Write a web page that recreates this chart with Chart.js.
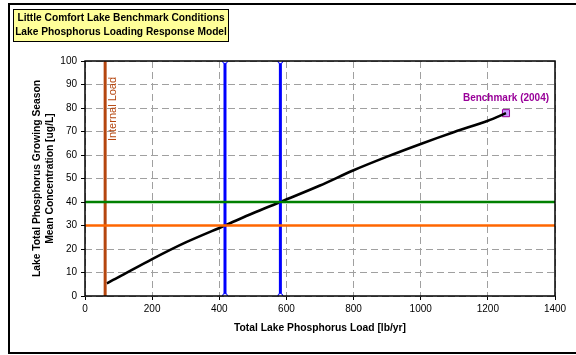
<!DOCTYPE html>
<html>
<head>
<meta charset="utf-8">
<script src="https://cdn.jsdelivr.net/npm/chart.js@4.4.1/dist/chart.umd.min.js"></script>
<style>
  html, body { margin: 0; padding: 0; background: #fff; }
  #wrap { width: 576px; height: 355px; }
</style>
</head>
<body>
<div id="wrap"><canvas id="chart" width="576" height="355"></canvas></div>
<script>
// response curve: total load [lb/yr] vs. mean TP [ug/L]
var loadValues = [65, 100, 200, 300, 417, 500, 582, 700, 800, 900, 1000, 1100, 1200, 1254];
var tpValues   = [5.4, 8, 15.7, 22.8, 30, 35.2, 40, 47, 53.5, 59.3, 64.7, 69.8, 74.6, 77.8];

// benchmark (2004) condition
var benchmarkLoad = 1254;
var benchmarkTP = 77.8;

// reference lines
var internalLoad = 60;
var targetLoads = [417, 582];
var standardTP = [40, 30];

var xTicks = [0, 200, 400, 600, 800, 1000, 1200, 1400];
var yTicks = [0, 10, 20, 30, 40, 50, 60, 70, 80, 90, 100];

var titleLines = ['Little Comfort Lake Benchmark Conditions', 'Lake Phosphorus Loading Response Model'];

var FONT = 'Arial, "Liberation Sans", sans-serif';

function vline(x) {
  return [{ x: x, y: 0 }, { x: x, y: 100 }];
}
function hline(y) {
  return [{ x: 0, y: y }, { x: 1400, y: y }];
}

var curve = loadValues.map(function(x, i) { return { x: x, y: tpValues[i] }; });

// frame, title box and the two text labels
var decorations = {
  id: 'decorations',
  beforeDraw: function(chart) {
    var ctx = chart.ctx;
    ctx.save();
    ctx.fillStyle = '#fff';
    ctx.fillRect(0, 0, chart.width, chart.height);
    ctx.strokeStyle = '#000';
    ctx.lineWidth = 2;
    ctx.strokeRect(9, 4, 600, 349);
    ctx.restore();
  },
  afterDatasetsDraw: function(chart) {
    var ctx = chart.ctx;
    var a = chart.chartArea;
    var xs = chart.scales.x, ys = chart.scales.y;
    ctx.save();

    // plot border
    ctx.strokeStyle = '#000';
    ctx.lineWidth = 1.5;
    ctx.strokeRect(a.left, a.top, a.right - a.left, a.bottom - a.top);

    // title box
    ctx.fillStyle = '#FFFF99';
    ctx.fillRect(13, 9, 216, 33);
    ctx.strokeStyle = '#000';
    ctx.lineWidth = 1;
    ctx.strokeRect(13.5, 9.5, 215, 32);
    ctx.fillStyle = '#000';
    ctx.font = 'bold 10.2px ' + FONT;
    ctx.textAlign = 'center';
    ctx.textBaseline = 'middle';
    ctx.fillText(titleLines[0], 121, 18.5);
    ctx.fillText(titleLines[1], 121, 32.5);

    // internal load label
    ctx.save();
    ctx.translate(xs.getPixelForValue(internalLoad) + 8, a.top + 48);
    ctx.rotate(-Math.PI / 2);
    ctx.fillStyle = '#B5460F';
    ctx.font = '11px ' + FONT;
    ctx.fillText('Internal Load', 0, 0);
    ctx.restore();

    // benchmark label
    ctx.fillStyle = '#990099';
    ctx.font = 'bold 10px ' + FONT;
    ctx.fillText('Benchmark (2004)', xs.getPixelForValue(benchmarkLoad), ys.getPixelForValue(benchmarkTP) - 15);

    ctx.restore();
  }
};

new Chart(document.getElementById('chart'), {
  type: 'scatter',
  data: {
    datasets: [
      { data: hline(standardTP[0]), showLine: true, borderColor: '#008000', borderWidth: 2.5, pointRadius: 0 },
      { data: hline(standardTP[1]), showLine: true, borderColor: '#FF6600', borderWidth: 2.5, pointRadius: 0 },
      { data: vline(targetLoads[0]), showLine: true, borderColor: '#0000FF', borderWidth: 3,
        pointRadius: 2.5, pointBackgroundColor: '#fff', pointBorderColor: '#0000FF', pointBorderWidth: 1 },
      { data: vline(targetLoads[1]), showLine: true, borderColor: '#0000FF', borderWidth: 3,
        pointRadius: 2.5, pointBackgroundColor: '#fff', pointBorderColor: '#0000FF', pointBorderWidth: 1 },
      { data: vline(internalLoad), showLine: true, borderColor: '#B5460F', borderWidth: 3, pointRadius: 0 },
      { data: curve, showLine: true, borderColor: '#000', borderWidth: 2.6, pointRadius: 0, tension: 0.3 },
      { data: [{ x: benchmarkLoad, y: benchmarkTP }], pointStyle: 'rect', pointRadius: 5,
        pointBackgroundColor: '#CC99FF', pointBorderColor: '#990099', pointBorderWidth: 1 }
    ]
  },
  options: {
    responsive: false,
    animation: false,
    layout: { padding: { top: 61, right: 21, left: 30, bottom: 21 } },
    plugins: { legend: { display: false }, tooltip: { enabled: false } },
    scales: {
      x: {
        type: 'linear', min: 0, max: 1400,
        afterBuildTicks: function(s) { s.ticks = xTicks.map(function(v) { return { value: v }; }); },
        afterFit: function(s) { s.height = 38; },
        ticks: { color: '#000', font: { family: FONT, size: 10 }, padding: 3, maxRotation: 0,
                 callback: function(v) { return String(v); } },
        grid: { color: '#a0a0a0', tickColor: '#000', tickLength: 4, tickBorderDash: [] },
        border: { display: false, dash: [7, 4] },
        title: { display: true, text: 'Total Lake Phosphorus Load [lb/yr]', color: '#000',
                 font: { family: FONT, size: 10.3, weight: 'bold' }, padding: 0 }
      },
      y: {
        type: 'linear', min: 0, max: 100,
        afterBuildTicks: function(s) { s.ticks = yTicks.map(function(v) { return { value: v }; }); },
        afterFit: function(s) { s.width = 55; },
        ticks: { color: '#000', font: { family: FONT, size: 10 }, padding: 4,
                 callback: function(v) { return String(v); } },
        grid: { color: '#a0a0a0', tickColor: '#000', tickLength: 4, tickBorderDash: [] },
        border: { display: false, dash: [7, 4] },
        title: { display: true, text: ['Lake Total Phosphorus Growing Season', 'Mean Concentration [ug/L]'],
                 color: '#000', font: { family: FONT, size: 10.3, weight: 'bold', lineHeight: 1.3 }, padding: 0 }
      }
    }
  },
  plugins: [decorations]
});
</script>
</body>
</html>
